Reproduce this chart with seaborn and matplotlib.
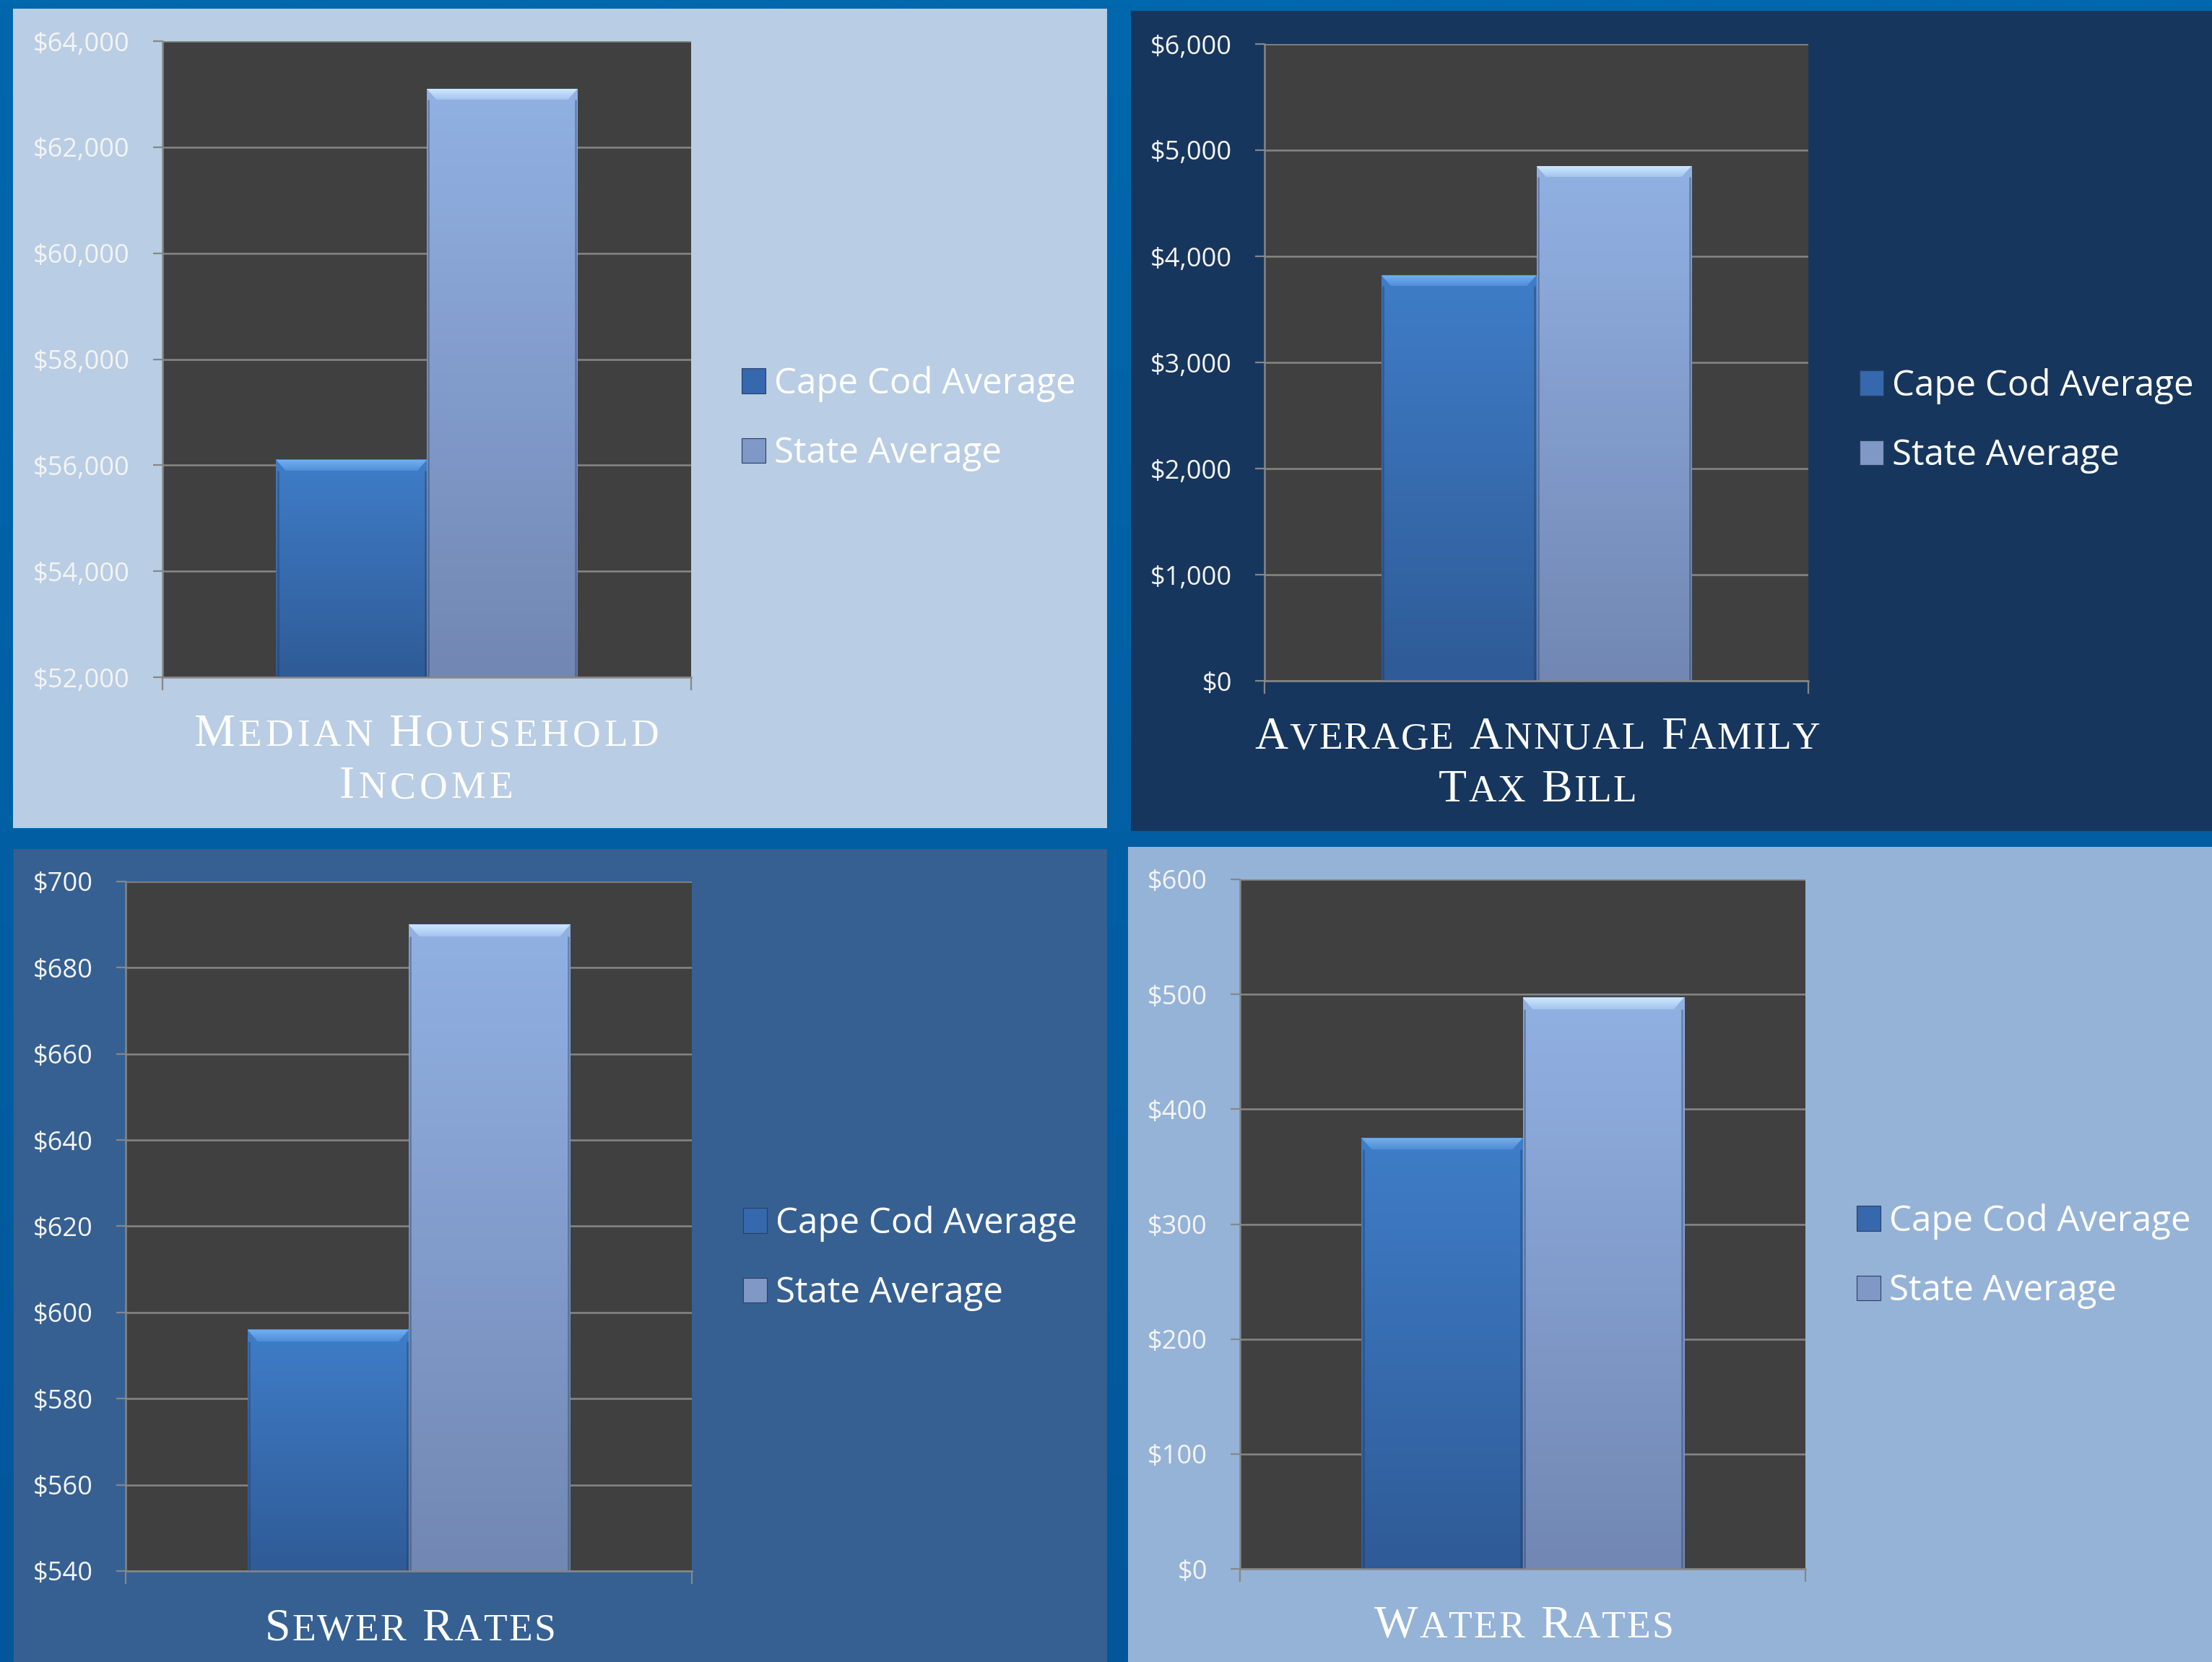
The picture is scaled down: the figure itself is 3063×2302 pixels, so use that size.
import numpy as np
import pandas as pd
import matplotlib
matplotlib.use("Agg")
import matplotlib.pyplot as plt
import seaborn as sns
from matplotlib.patches import Rectangle, Polygon
from matplotlib.ticker import FixedLocator, FuncFormatter
from matplotlib.colors import to_rgb

# ---------------- data ----------------
metrics = ["Median Household Income", "Average Annual Family Tax Bill",
           "Sewer Rates", "Water Rates"]
series_names = ["Cape Cod Average", "State Average"]
cape_cod_values = [56100, 3820, 596, 375]
state_values = [63100, 4850, 690, 497]

income_ticks = [52000, 54000, 56000, 58000, 60000, 62000, 64000]
tax_ticks = [0, 1000, 2000, 3000, 4000, 5000, 6000]
sewer_ticks = [540, 560, 580, 600, 620, 640, 660, 680, 700]
water_ticks = [0, 100, 200, 300, 400, 500, 600]
panel_ticks = [income_ticks, tax_ticks, sewer_ticks, water_ticks]

title_lines = [["Median Household", "Income"],
               ["Average Annual Family", "Tax Bill"],
               ["Sewer Rates"],
               ["Water Rates"]]

# ---------------- layout / style (pixels, y from top) ----------------
W, H, DPI = 3063, 2302, 100
panel_rects = [(18, 12, 1533, 1147), (1566, 15, 3063, 1151),
               (19, 1176, 1533, 2302), (1562, 1173, 3063, 2302)]
panel_colors = ["#b9cde4", "#17365d", "#366092", "#95b3d7"]
axes_boxes = [(225, 57, 957, 938), (1751, 61, 2504, 943),
              (174, 1221, 958, 2176), (1717, 1218, 2500, 2173)]
legend_anchor = [(1027, 580), (2575, 583), (1029, 1743), (2571, 1740)]
title_pos = [(590, [1033, 1105]), (2129, [1037, 1110]),
             (568, [2272]), (2110, [2268])]
title_track = [5, 2, 2, 2]

cape_top, cape_bot, cape_bevel = "#3f7dc8", "#2f5b97", "#74b0f2"
state_top, state_bot, state_bevel = "#91b1e3", "#7287b3", "#cfe9ff"
grid_col = "#878787"

sns.set_theme(style="white")
plt.rcParams["font.family"] = ["Open Sans", "DejaVu Sans"]

fig = plt.figure(figsize=(W / DPI, H / DPI), dpi=DPI)

# background with border gradient and panels
bg = fig.add_axes([0, 0, 1, 1], zorder=-10)
grad = np.linspace(0, 1, 256)[:, None]
c0, c1 = np.array(to_rgb("#0068ad")), np.array(to_rgb("#03569a"))
img = (c0[None, None, :] * (1 - grad[..., None]) + c1[None, None, :] * grad[..., None])
bg.imshow(img, extent=[0, W, H, 0], aspect="auto", interpolation="bilinear")
for (x0, y0, x1, y1), col in zip(panel_rects, panel_colors):
    bg.add_patch(Rectangle((x0, y0), x1 - x0, y1 - y0, facecolor=col, edgecolor="none"))
bg.set_xlim(0, W)
bg.set_ylim(H, 0)
bg.axis("off")


def vgrad(top, bot):
    t = np.linspace(0, 1, 200)[:, None, None]
    a, b = np.array(to_rgb(top)), np.array(to_rgb(bot))
    return a * (1 - t) + b * t


for i in range(4):
    l, t, r, b = axes_boxes[i]
    ax = fig.add_axes([l / W, 1 - b / H, (r - l) / W, (b - t) / H])
    df = pd.DataFrame({
        "metric": [metrics[i], metrics[i]],
        "series": series_names,
        "value": [cape_cod_values[i], state_values[i]],
    })
    sns.barplot(data=df, x="metric", y="value", hue="series", hue_order=series_names,
                palette=["#3a6fb5", "#859fcf"], width=0.57, saturation=1,
                linewidth=0, ax=ax)
    ticks = panel_ticks[i]
    lo, hi = ticks[0], ticks[-1]

    # gradient + bevel on bars
    styles = [(cape_top, cape_bot, cape_bevel, "#4f8fd8"),
              (state_top, state_bot, state_bevel, "#a4c4ee")]
    for k, cont in enumerate(ax.containers):
        top_c, bot_c, bev_c, bev_c2 = styles[k]
        for p in cont.patches:
            x0, w = p.get_x(), p.get_width()
            y1 = p.get_y() + p.get_height()
            y0 = max(p.get_y(), lo)
            z = p.get_zorder()
            ax.imshow(vgrad(top_c, bot_c), extent=[x0, x0 + w, y0, y1], origin="upper",
                      aspect="auto", interpolation="bilinear", zorder=z + 0.1)
            bh = 0.017 * (hi - lo)
            dx = 0.018
            bev = Polygon([(x0, y1), (x0 + w, y1), (x0 + w - dx, y1 - bh),
                           (x0 + dx, y1 - bh)], closed=True, facecolor="none",
                          edgecolor="none", zorder=z + 0.2)
            ax.add_patch(bev)
            bim = ax.imshow(vgrad(bev_c, bev_c2), extent=[x0, x0 + w, y1 - bh, y1],
                            origin="upper", aspect="auto", interpolation="bilinear",
                            zorder=z + 0.2)
            bim.set_clip_path(bev)
            for xe in (x0 + 0.003, x0 + w - 0.003):
                ax.plot([xe, xe], [y0, y1 - bh], color="#1e3050", alpha=0.35,
                        lw=2, zorder=z + 0.15, solid_capstyle="butt")

    ax.set_xlim(-0.5, 0.5)
    ax.set_ylim(lo, hi)
    ax.set_facecolor("#404040")
    ax.yaxis.set_major_locator(FixedLocator(ticks))
    ax.yaxis.set_major_formatter(FuncFormatter(lambda v, _: f"${v:,.0f}"))
    ax.set_xticks([-0.5, 0.5])
    ax.set_xticklabels(["", ""])
    ax.set_xlabel("")
    ax.set_ylabel("")
    ax.tick_params(axis="y", left=True, length=9.5, width=1.6, color=grid_col, pad=23,
                   labelsize=26, labelcolor="#f4f4f4", direction="out")
    ax.tick_params(axis="x", bottom=True, length=13, width=1.6, color=grid_col,
                   direction="out")
    ax.yaxis.grid(True, color=grid_col, lw=1.8)
    ax.xaxis.grid(False)
    ax.set_axisbelow(True)
    for s in ["top", "right"]:
        ax.spines[s].set_visible(False)
    for s in ["left", "bottom"]:
        ax.spines[s].set_visible(True)
        ax.spines[s].set_color(grid_col)
        ax.spines[s].set_linewidth(1.8)

    old = ax.get_legend()
    handles = old.legend_handles
    labels = [tx.get_text() for tx in old.get_texts()]
    old.remove()
    for h, c in zip(handles, ["#3668ad", "#7f98c6"]):
        h.set_facecolor(c)
        h.set_edgecolor("#2a3f60")
        h.set_linewidth(0.8)
    lx, ly = legend_anchor[i]
    ax.legend(handles, labels, loc="center left", bbox_to_anchor=(lx / W, 1 - ly / H),
              bbox_transform=fig.transFigure, frameon=False, fontsize=35.5,
              labelcolor="white", handlelength=0.66, handleheight=0.7,
              handletextpad=0.25, labelspacing=0.95, borderpad=0, borderaxespad=0)

# ---------------- small-caps titles ----------------
renderer = fig.canvas.get_renderer()
BIG, SMALL = 46, 38.5
serif = ["Liberation Serif", "DejaVu Serif"]
WORD_GAP = 22


def small_caps_line(text, cx, y_base, track):
    pieces = []
    for wi, word in enumerate(text.split(" ")):
        if wi:
            pieces.append(("gap", None))
        pieces.append((word[0], BIG))
        for ch in word[1:]:
            pieces.append((ch.upper(), SMALL))
    arts, widths = [], []
    for s, size in pieces:
        if s == "gap":
            arts.append(None)
            widths.append(WORD_GAP)
            continue
        tx = fig.text(0, H - y_base, s, fontsize=size, family=serif, color="white",
                      ha="left", va="baseline", transform=None)
        arts.append(tx)
        widths.append(tx.get_window_extent(renderer).width)
    total = 0
    for j, (a, wdt) in enumerate(zip(arts, widths)):
        total += wdt
        if a is not None and j + 1 < len(arts) and arts[j + 1] is not None:
            total += track
    x = cx - total / 2
    for j, (a, wdt) in enumerate(zip(arts, widths)):
        if a is not None:
            a.set_x(x)
        x += wdt
        if a is not None and j + 1 < len(arts) and arts[j + 1] is not None:
            x += track


for (cx, baselines), lines, trk in zip(title_pos, title_lines, title_track):
    for line, yb in zip(lines, baselines):
        small_caps_line(line, cx, yb, trk)

fig.savefig("out.png", dpi=DPI)
